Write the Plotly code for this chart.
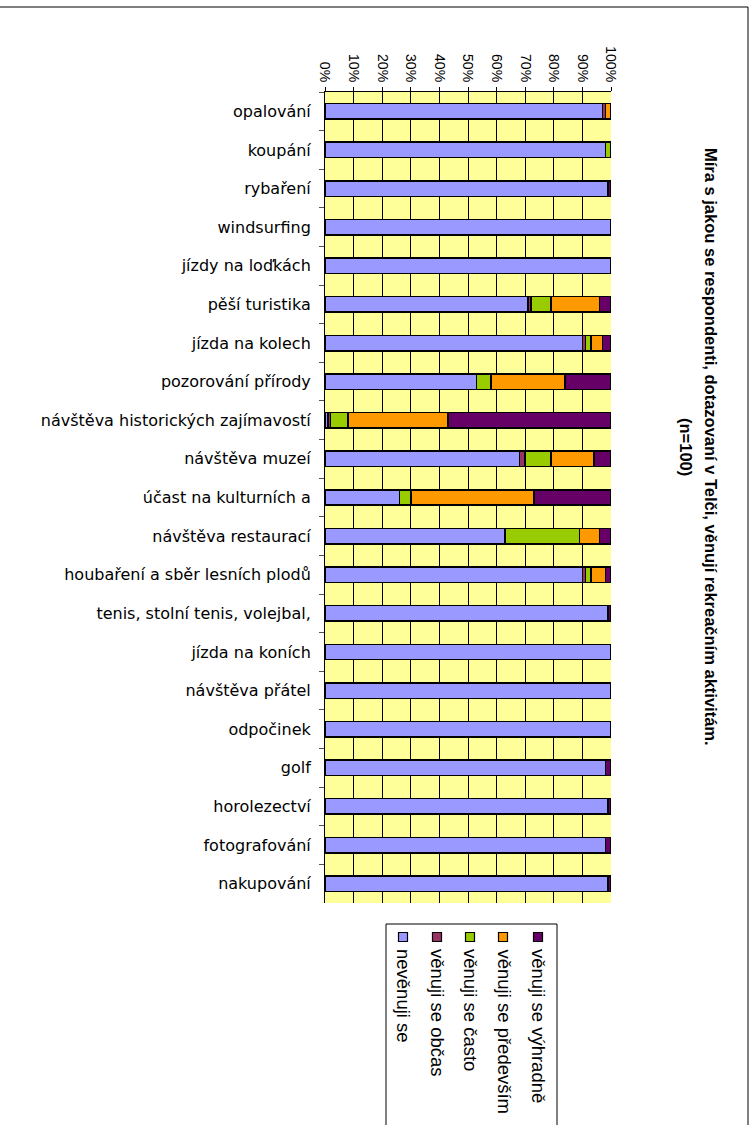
import plotly.graph_objects as go

categories = ["opalování", "koupání", "rybaření", "windsurfing", "jízdy na loďkách",
              "pěší turistika", "jízda na kolech", "pozorování přírody",
              "návštěva historických zajímavostí", "návštěva muzeí",
              "účast na kulturních a", "návštěva restaurací",
              "houbaření a sběr lesních plodů", "tenis, stolní tenis, volejbal,",
              "jízda na koních", "návštěva přátel", "odpočinek", "golf",
              "horolezectví", "fotografování", "nakupování"]

series_names = ["nevěnuji se", "věnuji se občas", "věnuji se často",
                "věnuji se především", "věnuji se výhradně"]
nevenuji = [97, 98, 99, 100, 100, 71, 90, 53, 1, 68, 26, 63, 90, 99, 100, 100, 100, 98, 99, 98, 99]
obcas = [1, 0, 0, 0, 0, 1, 1, 0, 1, 2, 0, 0, 1, 0, 0, 0, 0, 0, 0, 0, 0]
casto = [0, 2, 0, 0, 0, 7, 2, 5, 6, 9, 4, 26, 2, 0, 0, 0, 0, 0, 0, 0, 0]
predevsim = [2, 0, 0, 0, 0, 17, 4, 26, 35, 15, 43, 7, 5, 0, 0, 0, 0, 0, 0, 0, 0]
vyhradne = [0, 0, 1, 0, 0, 4, 3, 16, 57, 6, 27, 4, 2, 1, 0, 0, 0, 2, 1, 2, 1]
series_values = [nevenuji, obcas, casto, predevsim, vyhradne]
series_colors = ["#9999FF", "#993366", "#99CC00", "#FF9900", "#660066"]

tick_vals = [0, 10, 20, 30, 40, 50, 60, 70, 80, 90, 100]
title_line1 = "Míra s jakou se respondenti, dotazovaní v Telči, věnují rekreačním aktivitám."
title_line2 = "(n=100)"

W, H = 754, 1125
L, R, T, B = 325, 611, 92, 903


def px(x):
    return (x - L) / (R - L)


def py(y):
    return (B - y) / (B - T)


fig = go.Figure()
for name, vals, col in zip(series_names, series_values, series_colors):
    fig.add_trace(go.Bar(
        y=categories, x=[v if v else None for v in vals], name=name,
        orientation="h", marker=dict(color=col, line=dict(color="black", width=1.5)),
        showlegend=False))

shapes = []
annotations = []

# outer chart frame (partly outside the picture)
shapes.append(dict(type="rect", xref="paper", yref="paper",
                   x0=px(-5), x1=px(748), y0=py(1135), y1=py(7),
                   line=dict(color="black", width=1), fillcolor="rgba(0,0,0,0)"))

# legend box
shapes.append(dict(type="rect", xref="paper", yref="paper",
                   x0=px(386), x1=px(557), y0=py(1135), y1=py(924),
                   line=dict(color="black", width=1), fillcolor="white"))
leg_x = [403, 437, 470, 503, 538]
for name, col, cx in zip(series_names, series_colors, leg_x):
    shapes.append(dict(type="rect", xref="paper", yref="paper",
                       x0=px(cx - 4.5), x1=px(cx + 4.5), y0=py(941.5), y1=py(932.5),
                       line=dict(color="black", width=1.2), fillcolor=col))
    annotations.append(dict(text=name, xref="paper", yref="paper",
                            x=px(cx + 1), y=py(947), xanchor="center", yanchor="top",
                            textangle=90, showarrow=False,
                            font=dict(family="Liberation Sans, Arial", size=18.5, color="black")))

# title (rotated)
annotations.append(dict(text="<b>" + title_line1 + "</b>", xref="paper", yref="paper",
                        x=px(711), y=py(447), xanchor="center", yanchor="middle",
                        textangle=90, showarrow=False,
                        font=dict(family="Liberation Sans, Arial", size=16.5, color="black")))
annotations.append(dict(text="<b>" + title_line2 + "</b>", xref="paper", yref="paper",
                        x=px(686), y=py(447), xanchor="center", yanchor="middle",
                        textangle=90, showarrow=False,
                        font=dict(family="Liberation Sans, Arial", size=16.5, color="black")))

fig.update_layout(
    template="none",
    width=W, height=H,
    margin=dict(l=L, r=W - R, t=T, b=H - B, pad=0),
    barmode="stack", bargap=0.6,
    plot_bgcolor="#FFFF99", paper_bgcolor="white",
    shapes=shapes, annotations=annotations,
    showlegend=False,
)
fig.update_xaxes(
    side="top", range=[0, 100], tickmode="array", tickvals=tick_vals,
    ticktext=[f"{v}%" for v in tick_vals], tickangle=90,
    showgrid=True, gridcolor="black", gridwidth=1,
    showline=True, linecolor="black", linewidth=1,
    ticks="outside", ticklen=4, tickcolor="black",
    tickfont=dict(family="Liberation Sans, Arial", size=14, color="black"),
    zeroline=False, automargin=False, fixedrange=True,
)
fig.update_yaxes(
    type="category", categoryorder="array", categoryarray=categories,
    autorange="reversed", tickson="boundaries",
    showgrid=False, showline=True, linecolor="black", linewidth=1,
    ticks="outside", ticklen=5, tickcolor="#555555",
    ticklabelstandoff=10,
    tickfont=dict(family="DejaVu Sans", size=16, color="black"),
    automargin=False, fixedrange=True,
)

fig.write_html("out.html", post_script="document.body.style.margin='0';",
               config={"displayModeBar": False})
